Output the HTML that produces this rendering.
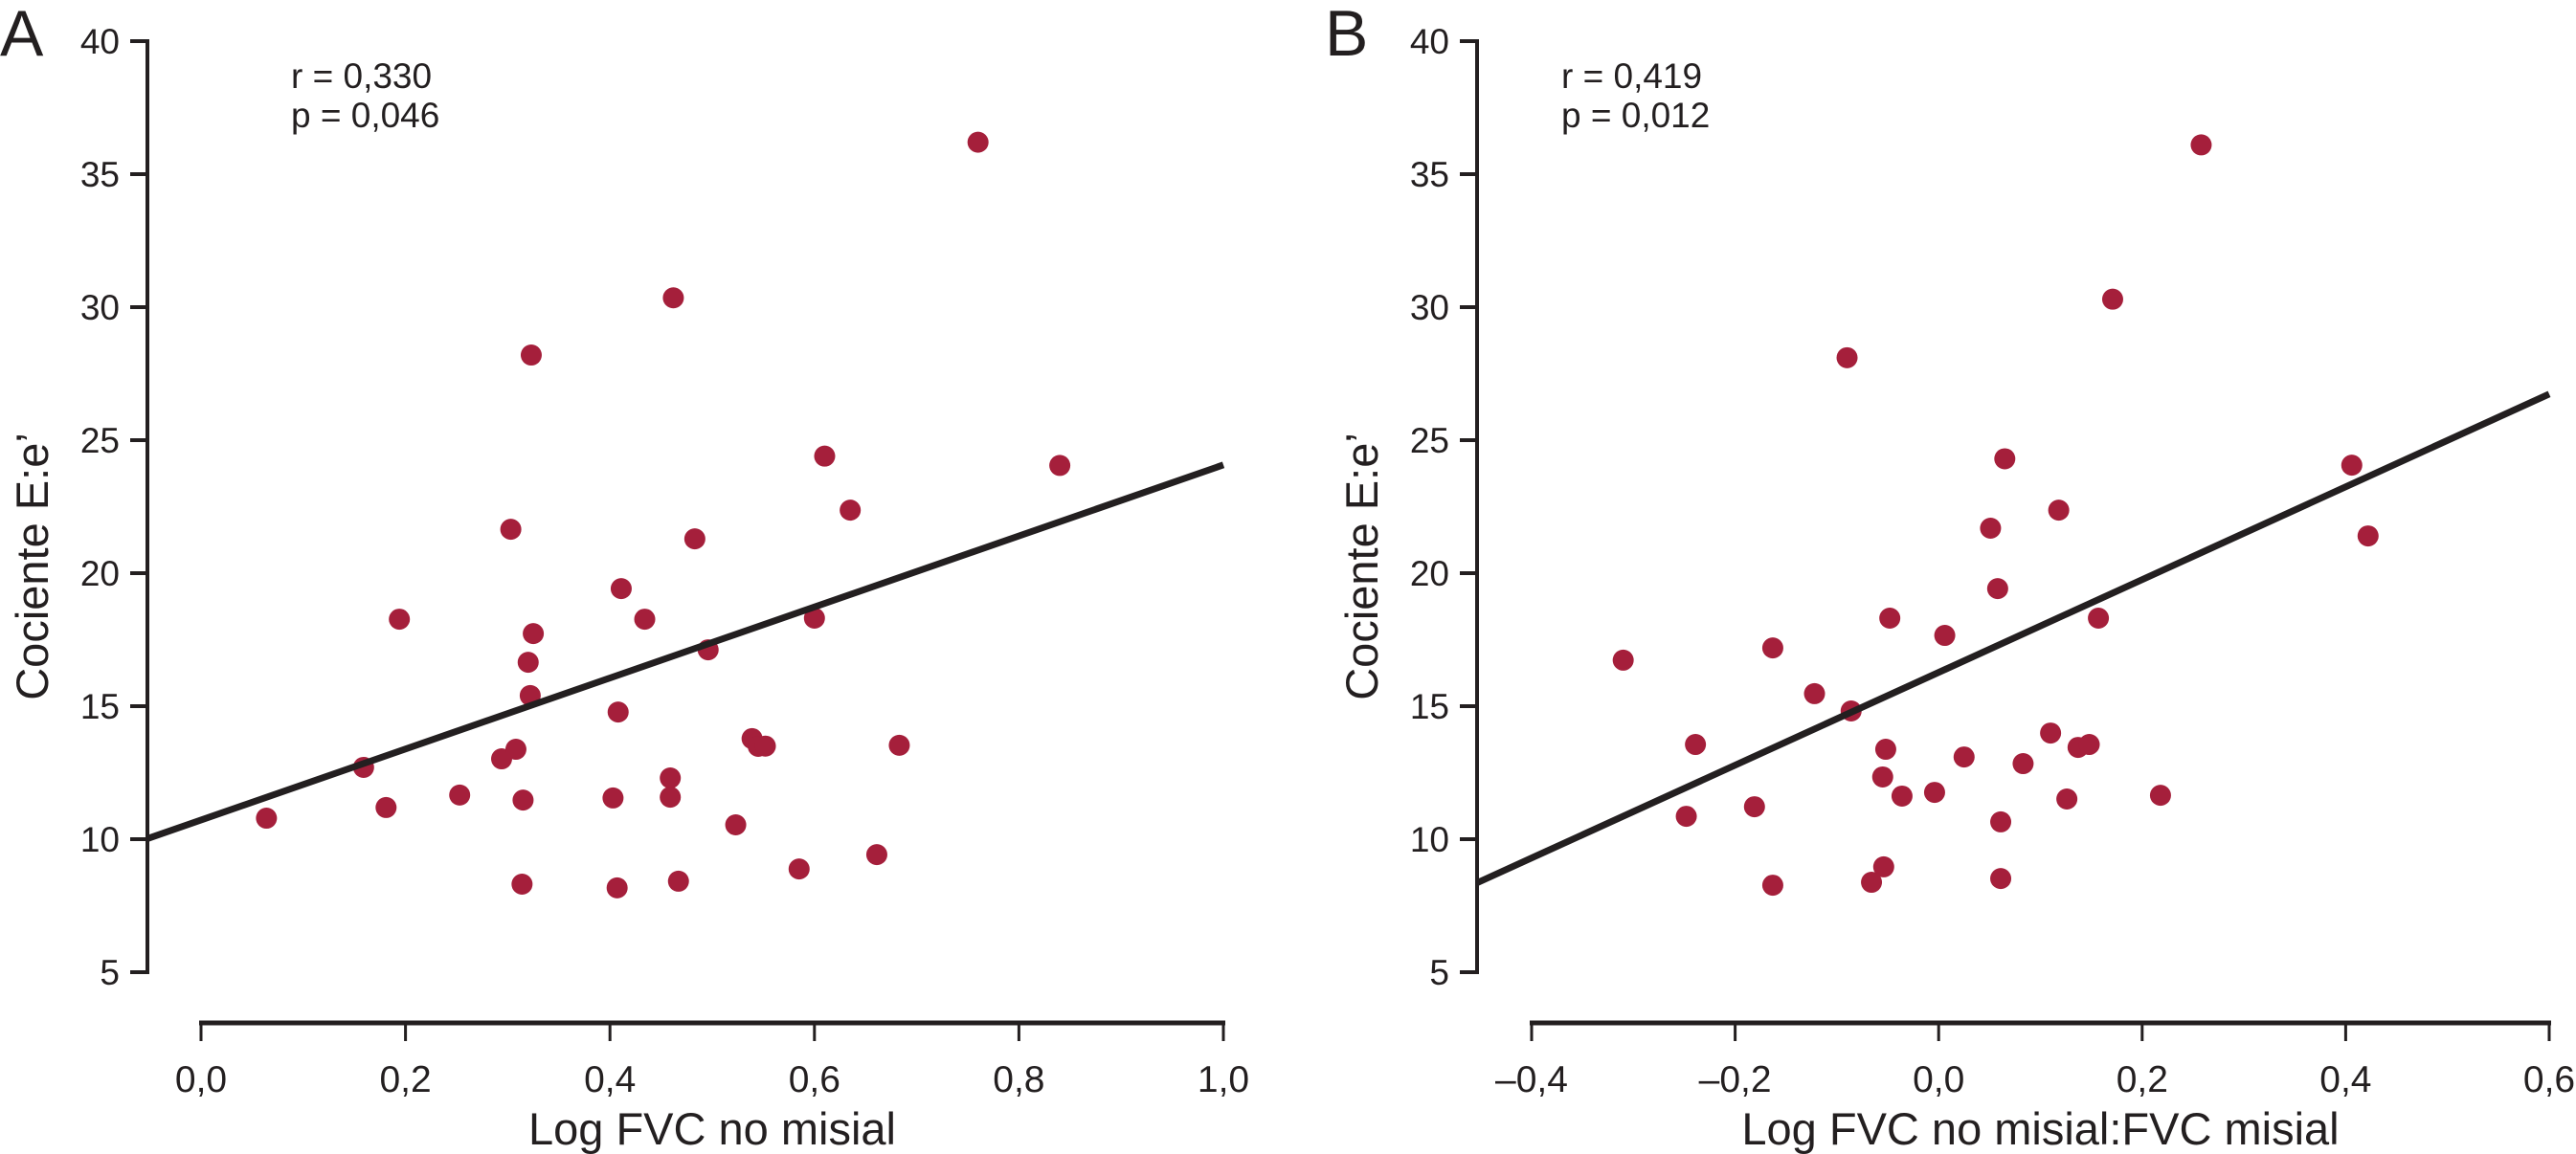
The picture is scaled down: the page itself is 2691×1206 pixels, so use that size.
<!DOCTYPE html>
<html><head><meta charset="utf-8"><style>
html,body{margin:0;padding:0;background:#fff;}
svg{display:block;font-family:"Liberation Sans",Arial,sans-serif;}
</style></head><body>
<svg id="chart" width="2691" height="1206" viewBox="0 0 2691 1206" xmlns="http://www.w3.org/2000/svg"></svg>
<script>
// Panel A data
const aX = [0.064,0.159,0.181,0.194,0.253,0.294,0.308,0.303,0.325,0.320,0.322,0.315,0.314,0.323,0.411,0.434,0.408,0.403,0.407,0.459,0.459,0.467,0.483,0.496,0.462,0.635,0.600,0.539,0.545,0.552,0.683,0.523,0.585,0.661,0.610,0.760,0.840];
const aY = [10.79,12.70,11.19,18.27,11.66,13.02,13.38,21.65,17.73,16.65,15.40,11.47,8.31,28.2,19.42,18.27,14.78,11.55,8.17,12.30,11.58,8.42,21.29,17.12,30.35,22.37,18.31,13.78,13.49,13.5,13.53,10.54,8.88,9.42,24.4,36.2,24.05];
const aLine = [10.72, 13.35]; // intercept, slope
// Panel B data
const bX = [-0.310,-0.239,-0.248,-0.181,-0.163,-0.163,-0.122,-0.086,-0.048,-0.052,-0.055,-0.036,-0.004,0.006,-0.054,-0.066,0.025,0.051,0.058,0.061,0.061,0.083,0.110,0.118,0.065,0.157,0.137,0.148,0.126,0.218,0.406,0.422,-0.090,0.171,0.258];
const bY = [16.73,13.56,10.86,11.22,17.19,8.27,15.47,14.82,18.31,13.38,12.34,11.62,11.76,17.66,8.96,8.38,13.09,21.69,19.42,10.65,8.52,12.84,13.99,22.37,24.3,18.31,13.45,13.56,11.51,11.65,24.06,21.4,28.1,30.3,36.1];
const bLine = [16.27, 17.44];
const yTicks = [5,10,15,20,25,30,35,40];
const aXTicks = [0,0.2,0.4,0.6,0.8,1.0];
const aXLabels = ["0,0","0,2","0,4","0,6","0,8","1,0"];
const bXTicks = [-0.4,-0.2,0,0.2,0.4,0.6];
const bXLabels = ["\u20130,4","\u20130,2","0,0","0,2","0,4","0,6"];

const NS = "http://www.w3.org/2000/svg";
const svg = document.getElementById('chart');
function mk(tag, attrs, parent, text){
  const e = document.createElementNS(NS, tag);
  for (const k in attrs) e.setAttribute(k, attrs[k]);
  if (text !== undefined) e.textContent = text;
  (parent||svg).appendChild(e);
  return e;
}
const yScale = v => 43 + (40 - v) * 27.8;

function panel(cfg){
  const g = mk('g', {});
  
  
  const xs = v => cfg.x0 + (v - cfg.xmin) / (cfg.xmax - cfg.xmin) * (cfg.x1 - cfg.x0);
  const L = mk('text', {x: cfg.letterX, y: 58, 'font-size': 68, fill: '#231f20'}, g, cfg.letter);
  
  
  const ya = mk('g', {}, g);
  
  
  mk('line', {x1: cfg.yAxisX, y1: yScale(40)-2, x2: cfg.yAxisX, y2: yScale(5)+2, stroke: '#231f20', 'stroke-width': 4}, ya);
  yTicks.forEach(t => {
    const tk = mk('line', {x1: cfg.yAxisX-18, y1: yScale(t), x2: cfg.yAxisX, y2: yScale(t), stroke: '#231f20', 'stroke-width': 4}, ya);
    
    
    const tl = mk('text', {x: cfg.yAxisX-29, y: yScale(t)+13, 'font-size': 37, 'text-anchor': 'end', fill: '#231f20'}, ya, String(t));
    
    
  });
  const yt = mk('text', {x: 0, y: 0, 'font-size': 47, 'text-anchor': 'middle', fill: '#231f20', transform: 'translate(' + (cfg.yAxisX-104) + ',' + 592 + ') rotate(-90)'}, ya, "Cociente E:e\u2019");
  
  
  const xa = mk('g', {}, g);
  
  
  mk('line', {x1: cfg.x0-2, y1: 1069, x2: cfg.x1+2, y2: 1069, stroke: '#231f20', 'stroke-width': 5}, xa);
  cfg.ticks.forEach((t, i) => {
    const tk = mk('line', {x1: xs(t), y1: 1069, x2: xs(t), y2: 1088, stroke: '#231f20', 'stroke-width': 3}, xa);
    
    
    const tl = mk('text', {x: xs(t), y: 1141, 'font-size': 39, 'text-anchor': 'middle', fill: '#231f20'}, xa, cfg.labels[i]);
    
    
  });
  const xt = mk('text', {x: (cfg.x0+cfg.x1)/2, y: 1196, 'font-size': 47, 'text-anchor': 'middle', fill: '#231f20'}, xa, cfg.title);
  
  
  const r = mk('text', {x: cfg.statX, y: 92, 'font-size': 37, fill: '#231f20'}, g, cfg.r);
  
  
  const p = mk('text', {x: cfg.statX, y: 133, 'font-size': 37, fill: '#231f20'}, g, cfg.p);
  
  
  cfg.xv.forEach((v, i) => {
    const c = mk('circle', {cx: xs(v), cy: yScale(cfg.yv[i]), r: 11, fill: '#a51f3b'}, g);
    
    
  });
  const xL = cfg.xmin + (cfg.yAxisX - cfg.x0) / (cfg.x1 - cfg.x0) * (cfg.xmax - cfg.xmin);
  const xR = cfg.xmax;
  const ln = mk('line', {x1: cfg.yAxisX, y1: yScale(cfg.line[0] + cfg.line[1]*xL), x2: xs(xR), y2: yScale(cfg.line[0] + cfg.line[1]*xR), stroke: '#231f20', 'stroke-width': 7}, g);
  
  
}

panel({id:'a', letter:'A', letterX:0, yAxisX:154, x0:210, x1:1278, xmin:0, xmax:1, ticks:aXTicks, labels:aXLabels,
  title:'Log FVC no misial', statX:304, r:'r = 0,330', p:'p = 0,046', xv:aX, yv:aY, line:aLine});
panel({id:'b', letter:'B', letterX:1384, yAxisX:1543, x0:1600, x1:2663, xmin:-0.4, xmax:0.6, ticks:bXTicks, labels:bXLabels,
  title:'Log FVC no misial:FVC misial', statX:1631, r:'r = 0,419', p:'p = 0,012', xv:bX, yv:bY, line:bLine});
</script>
</body></html>
